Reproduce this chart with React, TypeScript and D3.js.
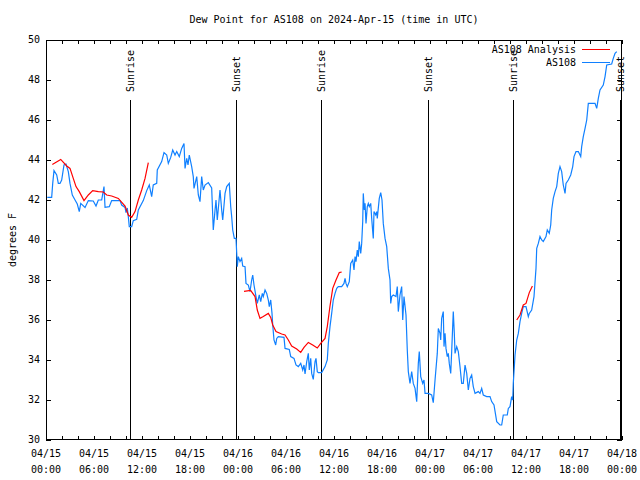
import React from "react";
import * as d3 from "d3";

// hours since 2024-04-15 00:00 UTC
const obsHours = [0.16,0.71,0.84,1.0,1.34,1.54,1.75,1.96,2.25,2.5,2.79,3.0,3.29,3.63,3.91,4.16,4.34,4.88,5.29,5.91,6.25,6.54,6.96,7.25,7.38,7.91,8.21,9.25,9.46,9.88,10.0,10.16,10.29,10.41,10.71,10.91,11.34,11.54,12.16,12.59,12.91,13.21,13.41,13.84,13.91,14.46,14.75,15.09,15.29,15.59,15.84,16.13,16.34,16.66,16.96,17.25,17.38,17.59,17.75,17.91,18.21,18.41,18.5,18.84,19.04,19.25,19.46,19.66,19.88,20.29,20.71,20.91,21.13,21.25,21.41,21.75,21.96,22.09,22.38,22.59,22.91,23.09,23.21,23.34,23.54,23.75,23.84,23.91,24.04,24.25,24.46,24.59,24.88,25.0,25.29,25.5,25.71,25.84,26.0,26.25,26.41,26.66,26.84,27.04,27.16,27.38,27.59,27.79,27.91,28.09,28.25,28.34,28.5,28.71,28.84,29.04,29.75,29.88,30.41,30.59,31.0,31.25,31.54,31.84,32.09,32.25,32.38,32.59,32.79,32.91,33.09,33.21,33.41,33.63,33.75,33.91,34.04,34.46,34.88,35.16,35.29,35.5,35.71,35.91,36.13,36.34,36.54,36.96,37.25,37.38,37.5,37.66,37.91,38.09,38.34,38.5,38.63,38.75,38.91,39.04,39.16,39.34,39.46,39.59,39.66,39.79,39.88,40.0,40.16,40.29,40.41,40.59,40.71,40.91,41.0,41.21,41.34,41.41,41.66,41.84,42.0,42.16,42.38,42.59,42.79,43.0,43.09,43.21,43.41,43.75,43.91,44.04,44.25,44.46,44.59,44.75,45.0,45.16,45.29,45.5,45.71,45.91,46.13,46.34,46.54,46.66,46.84,47.09,47.25,47.38,47.79,48.21,48.41,48.63,48.91,49.04,49.25,49.34,49.46,49.66,49.75,49.88,50.0,50.16,50.29,50.41,50.59,50.71,50.91,51.04,51.13,51.34,51.54,51.75,51.96,52.16,52.38,52.59,52.79,53.0,53.21,53.41,53.63,54.04,54.25,54.46,54.66,55.09,55.5,55.71,56.0,56.34,56.75,56.96,57.16,57.66,57.79,58.0,58.21,58.34,58.41,58.63,58.84,59.04,59.25,59.46,59.66,60.0,60.29,60.41,60.71,61.0,61.25,61.34,61.54,61.75,61.96,62.16,62.5,62.66,62.91,63.09,63.21,63.41,63.63,63.84,64.04,64.25,64.46,64.66,64.88,65.0,65.29,65.59,65.84,66.0,66.25,66.54,66.84,66.96,67.16,67.38,67.59,67.79,68.63,68.84,69.04,69.25,69.66,69.88,70.09,70.71,70.91,71.13,71.34];
const obsValues = [42.13,42.13,42.83,43.47,43.25,42.83,42.83,43.0,43.75,43.8,43.42,42.83,42.25,42.0,41.8,41.42,41.83,41.63,41.97,41.95,41.7,42.0,42.0,42.67,41.63,41.67,41.97,41.97,41.75,41.63,41.37,41.6,41.17,40.67,40.67,40.97,41.03,41.5,41.97,42.47,42.75,42.17,42.75,42.83,43.5,43.92,44.37,44.25,43.83,44.13,44.5,44.25,44.42,44.17,44.58,44.83,43.58,44.08,43.75,44.25,43.67,43.17,42.58,43.17,42.25,41.92,43.17,42.5,42.75,42.87,42.6,40.5,41.5,42.0,41.0,42.5,41.5,41.0,42.33,42.67,42.83,41.67,41.17,40.5,40.08,40.08,39.33,38.67,39.17,38.92,39.08,38.7,38.67,37.83,37.75,37.42,38.0,38.25,37.75,37.17,36.83,37.25,36.92,37.33,37.17,37.5,37.33,37.0,36.67,37.0,36.33,35.75,35.0,34.75,35.08,35.17,35.13,34.58,34.53,34.17,34.08,33.75,33.67,33.83,33.5,33.75,33.3,33.92,34.33,33.5,34.08,33.33,33.03,33.92,34.08,33.42,33.37,33.37,33.67,34.0,34.83,35.67,36.33,37.0,37.33,37.58,37.67,37.67,37.83,38.08,37.83,37.67,37.92,38.83,39.0,38.5,39.17,38.92,39.5,39.17,39.92,39.33,39.83,40.92,42.33,41.5,41.83,40.83,41.67,41.83,41.67,41.83,41.08,40.08,41.42,41.25,41.42,41.08,42.08,42.37,42.0,40.83,40.08,39.67,38.58,38.0,36.83,37.17,37.25,37.17,37.67,36.42,37.25,37.67,36.0,37.17,36.25,34.5,33.42,32.83,33.42,32.83,32.58,31.92,33.83,34.42,33.17,32.83,33.0,32.33,32.33,32.25,31.87,33.0,34.33,35.58,35.33,35.0,36.08,36.42,34.67,35.33,34.58,34.17,34.33,33.83,33.33,34.42,36.42,35.33,34.33,34.67,34.42,33.67,32.83,32.83,33.75,33.33,32.5,33.08,33.25,32.67,32.33,32.42,32.33,32.58,32.25,32.17,32.17,31.92,31.75,30.92,30.75,30.75,31.25,31.25,31.58,31.67,32.17,32.0,32.83,34.25,35.0,35.33,35.92,36.33,36.67,36.67,36.17,36.33,36.5,37.17,38.58,39.58,39.83,40.17,40.0,39.92,40.17,40.5,40.33,40.75,41.5,42.08,42.42,42.67,43.33,43.67,43.42,42.75,42.33,42.83,43.0,43.25,43.67,44.17,44.42,44.42,44.17,44.67,45.17,45.58,46.0,46.83,46.83,46.58,47.08,47.5,47.75,48.17,48.75,48.8,49.08,49.33,49.42];

// analysis series; null marks a gap
const anaHours = [0.79,1.84,2.59,3.0,3.41,3.75,4.16,4.75,5.29,5.84,6.54,7.16,7.59,8.21,9.04,9.88,10.29,10.71,11.13,11.54,11.96,12.38,12.79,null,24.75,25.58,26.13,26.41,26.75,27.16,27.79,28.09,28.34,28.75,29.46,29.88,30.29,30.71,31.34,31.84,32.25,32.79,33.34,33.91,34.34,34.88,35.16,35.5,35.84,36.25,36.66,36.96,null,58.84,59.25,59.66,60.0,60.41,60.8];
const anaValues = [43.78,44.03,43.7,43.58,43.08,42.67,42.42,41.97,42.25,42.47,42.42,42.4,42.25,42.2,42.08,41.7,41.25,41.13,41.42,42.0,42.5,43.08,43.87,null,37.43,37.48,37.17,36.5,36.08,36.17,36.33,36.13,35.75,35.42,35.3,35.25,35.0,34.7,34.55,34.38,34.63,34.88,34.75,34.6,34.83,35.08,35.67,36.7,37.58,38.0,38.37,38.4,null,36.0,36.25,36.75,36.83,37.37,37.7];

const sunLabels = ["Sunrise","Sunset","Sunrise","Sunset","Sunrise","Sunset"];
const sunHours = [10.5,23.75,34.375,47.75,58.375,71.75];

const yTicks = [30,32,34,36,38,40,42,44,46,48,50];
const xLabelHours = [0,6,12,18,24,30,36,42,48,54,60,66,72];
const xLabelDates = ["04/15","04/15","04/15","04/15","04/16","04/16","04/16","04/16","04/17","04/17","04/17","04/17","04/18"];
const xLabelTimes = ["00:00","06:00","12:00","18:00","00:00","06:00","12:00","18:00","00:00","06:00","12:00","18:00","00:00"];

const W = 640, H = 480;
const L = 46, R = 622, T = 40, B = 440;
const FONT = "'DejaVu Sans Mono', 'Liberation Mono', monospace";
const RED = "#ff0000";
const BLUE = "#1080ff";

export default function App() {
  const x = d3.scaleLinear().domain([0, 72]).range([L, R]);
  const y = d3.scaleLinear().domain([30, 50]).range([B, T]);
  const obs = obsHours.map((h, i) => [h, obsValues[i]] as [number, number]);
  const ana = anaHours.map((h, i) => [h, anaValues[i]] as [number | null, number | null]);
  const lineObs = d3.line<[number, number]>().x(d => x(d[0])).y(d => y(d[1]));
  const lineAna = d3.line<[number | null, number | null]>()
    .defined(d => d[0] != null && d[1] != null)
    .x(d => x(d[0] as number)).y(d => y(d[1] as number));
  const minorTicks = d3.range(0, 73, 2);

  return (
    <svg width={W} height={H} style={{ position: "absolute", left: 0, top: 0, background: "#fff" }}
      fontFamily={FONT} fontSize={10}>
      <rect x={0} y={0} width={W} height={H} fill="#fff" />
      <text x={(L + R) / 2} y={23} textAnchor="middle">Dew Point for AS108 on 2024-Apr-15 (time in UTC)</text>
      <text transform={`translate(13,${(T + B) / 2}) rotate(-90)`} textAnchor="middle" dominantBaseline="middle">degrees F</text>
      <g shapeRendering="crispEdges" stroke="#000" strokeWidth={1}>
        {yTicks.map(v => (
          <g key={v}>
            <line x1={L} x2={L + 5} y1={Math.round(y(v)) + 0.5} y2={Math.round(y(v)) + 0.5} />
            <line x1={R - 5} x2={R} y1={Math.round(y(v)) + 0.5} y2={Math.round(y(v)) + 0.5} />
          </g>
        ))}
        {minorTicks.map(h => (
          <g key={h}>
            <line x1={Math.round(x(h)) + 0.5} x2={Math.round(x(h)) + 0.5} y1={B} y2={B - 4} />
            <line x1={Math.round(x(h)) + 0.5} x2={Math.round(x(h)) + 0.5} y1={T} y2={T + 4} />
          </g>
        ))}
        {sunHours.map((h, i) => (
          <line key={i} x1={Math.round(x(h)) + 0.5} x2={Math.round(x(h)) + 0.5} y1={100} y2={B} />
        ))}
      </g>
      {yTicks.map(v => (
        <text key={v} x={L - 6} y={y(v)} textAnchor="end" dominantBaseline="middle">{v}</text>
      ))}
      {xLabelHours.map((h, i) => (
        <g key={h}>
          <text x={x(h)} y={457} textAnchor="middle">{xLabelDates[i]}</text>
          <text x={x(h)} y={473} textAnchor="middle">{xLabelTimes[i]}</text>
        </g>
      ))}
      {sunHours.map((h, i) => (
        <text key={i} transform={`translate(${Math.round(x(h)) + 0.5},92) rotate(-90)`} textAnchor="start" dominantBaseline="middle">{sunLabels[i]}</text>
      ))}
      <path d={lineObs(obs) || ""} fill="none" stroke={BLUE} strokeWidth={1.2} />
      <path d={lineAna(ana) || ""} fill="none" stroke={RED} strokeWidth={1.2} />
      <text x={576} y={50} textAnchor="end" dominantBaseline="middle">AS108 Analysis</text>
      <line x1={582} x2={610} y1={49.5} y2={49.5} stroke={RED} shapeRendering="crispEdges" />
      <text x={576} y={63} textAnchor="end" dominantBaseline="middle">AS108</text>
      <line x1={582} x2={610} y1={62.5} y2={62.5} stroke={BLUE} shapeRendering="crispEdges" />
      <rect x={L + 0.5} y={T + 0.5} width={R - L - 1} height={B - T - 1} fill="none" stroke="#000" shapeRendering="crispEdges" />
    </svg>
  );
}
